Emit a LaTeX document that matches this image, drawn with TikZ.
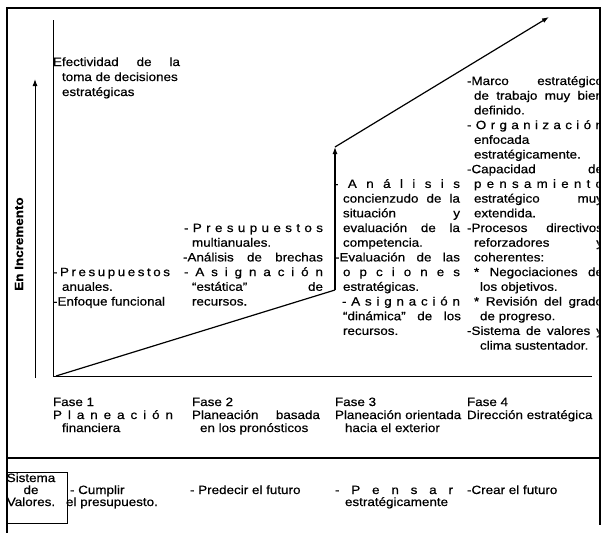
\documentclass[tikz,border=0pt]{standalone}
\usepackage{fontspec}
\setmainfont{Liberation Sans}[FakeStretch=1.12,FakeBold=0.6]
\usetikzlibrary{arrows.meta}
\newcommand\lsa[1]{#1\lsb}
\newcommand\lsb[1]{\ifx\relax#1\else\hfil#1\expandafter\lsb\fi}
\newcommand\LS[2]{\makebox[#1][s]{\lsa#2\relax}}
\newcommand\J[2]{\makebox[#1][s]{#2}}
\tikzset{
  txt/.style={anchor=base west, inner sep=0pt, outer sep=0pt, font=\fontsize{12}{14}\selectfont},
  ctxt/.style={anchor=base, inner sep=0pt, outer sep=0pt, font=\fontsize{12}{14}\selectfont},
  frame/.style={line width=2pt},
  axis/.style={line width=1pt},
  growth/.style={line width=1.2pt},
  tip/.style={-{Latex[length=7pt,width=5pt]}},
}
\begin{document}
\begin{tikzpicture}[x=1pt,y=-1pt]
\useasboundingbox (0,0) rectangle (603,533);
\fill[white] (0,0) rectangle (603,533);
% frame
\coordinate (fbl) at (7,533);
\coordinate (ftl) at (7,8);
\coordinate (ftr) at (600,8);
\coordinate (fbr) at (600,525);
\coordinate (dl) at (7,458);
\coordinate (dr) at (600,458);
\draw[frame] (fbl) -- (ftl) -- (ftr) -- (fbr);
\draw[frame] (dl) -- (dr);
% axes
\coordinate (O) at (53,376);
\coordinate (ytop) at (53,20);
\coordinate (xend) at (592,376);
\draw[axis] (ytop) -- (O) -- (xend);
\coordinate (a0) at (35,378);
\coordinate (a1) at (35,79);
\draw[axis,tip] (a0) -- (a1);
\node[rotate=90, inner sep=0pt, font=\fontsize{12}{14}\selectfont\bfseries] (inc) at (19,244) {En Incremento};
% growth line
\coordinate (g0) at (56,376);
\coordinate (g1) at (335,290);
\coordinate (g2) at (335,147);
\coordinate (g3) at (549,17);
\draw[growth] (g0) -- (g1);
\draw[growth,tip] (g1) -- (g2);
\draw[growth,tip] (g2) -- (g3);
% phase 1
\node[txt] (ef1) at (53,66) {\J{127pt}{Efectividad de la}};
\node[txt] (ef2) at (62,81) {toma de decisiones};
\node[txt] (ef3) at (62,96) {estratégicas};
\node[txt] (p1a) at (53,276.1) {\LS{117pt}{-Presupuestos}};
\node[txt] (p1b) at (62,290.8) {anuales.};
\node[txt] (p1c) at (53,305.5) {-Enfoque funcional};
% phase 2
\node[txt] (p2a) at (184,232) {\LS{139pt}{-Presupuestos}};
\node[txt] (p2b) at (192,246.7) {multianuales.};
\node[txt] (p2c) at (183,261.4) {\J{140pt}{-Análisis de brechas}};
\node[txt] (p2d) at (184,276.1) {\LS{139pt}{-Asignación}};
\node[txt] (p2e) at (192,290.8) {\J{131pt}{“estática” de}};
\node[txt] (p2f) at (192,305.5) {recursos.};
% phase 3
\node[txt] (p3a) at (334,187.9) {\LS{126pt}{-Análisis}};
\node[txt] (p3b) at (343,202.6) {\J{117pt}{concienzudo de la}};
\node[txt] (p3c) at (343,217.3) {\J{117pt}{situación y}};
\node[txt] (p3d) at (343,232) {\J{117pt}{evaluación de la}};
\node[txt] (p3e) at (343,246.7) {competencia.};
\node[txt] (p3f) at (335,261.4) {\J{125pt}{-Evaluación de las}};
\node[txt] (p3g) at (343,276.1) {\LS{117pt}{opciones}};
\node[txt] (p3h) at (343,290.8) {estratégicas.};
\node[txt] (p3i) at (342,305.5) {\LS{118pt}{-Asignación}};
\node[txt] (p3j) at (343,320.2) {\J{118pt}{“dinámica” de los}};
\node[txt] (p3k) at (343,334.9) {recursos.};
% phase 4 (cut by the right border)
\begin{scope}
\clip (440,0) rectangle (598.5,533);
\node[txt] (p4a) at (467,85) {\J{136pt}{-Marco estratégico}};
\node[txt] (p4b) at (474,99.7) {\J{129pt}{de trabajo muy bien}};
\node[txt] (p4c) at (474,114.4) {definido.};
\node[txt] (p4d) at (467,129.1) {\LS{136pt}{-Organización}};
\node[txt] (p4e) at (474,143.8) {enfocada};
\node[txt] (p4f) at (474,158.5) {estratégicamente.};
\node[txt] (p4g) at (467,173.2) {\J{136pt}{-Capacidad de}};
\node[txt] (p4h) at (474,187.9) {\LS{129pt}{pensamiento}};
\node[txt] (p4i) at (474,202.6) {\J{129pt}{estratégico muy}};
\node[txt] (p4j) at (474,217.3) {extendida.};
\node[txt] (p4k) at (467,232) {\J{136pt}{-Procesos directivos}};
\node[txt] (p4l) at (474,246.7) {\J{129pt}{reforzadores y}};
\node[txt] (p4m) at (474,261.4) {coherentes:};
\node[txt] (p4n) at (474,276.1) {\J{129pt}{* Negociaciones de}};
\node[txt] (p4o) at (480,290.8) {los objetivos.};
\node[txt] (p4p) at (474,305.5) {\J{129pt}{* Revisión del grado}};
\node[txt] (p4q) at (480,320.2) {de progreso.};
\node[txt] (p4r) at (467,334.9) {\J{136pt}{-Sistema de valores y}};
\node[txt] (p4s) at (480,349.6) {clima sustentador.};
\node[txt] (f4a) at (467,406) {Fase 4};
\node[txt] (f4b) at (467,419) {Dirección estratégica};
\end{scope}
% phase labels
\node[txt] (f1a) at (53,406) {Fase 1};
\node[txt] (f1b) at (53,419) {\LS{120pt}{Planeación}};
\node[txt] (f1c) at (62,432) {financiera};
\node[txt] (f2a) at (192,406) {Fase 2};
\node[txt] (f2b) at (192,419) {\J{128pt}{Planeación basada}};
\node[txt] (f2c) at (200,432) {en los pronósticos};
\node[txt] (f3a) at (335,406) {Fase 3};
\node[txt] (f3b) at (335,419) {Planeación orientada};
\node[txt] (f3c) at (345,432) {hacia el exterior};
% values row
\coordinate (bx0) at (7,472);
\coordinate (bx1) at (67,523);
\draw[line width=0.8pt] (bx0) rectangle (bx1);
\node[ctxt] (sv1) at (31,482) {Sistema};
\node[ctxt] (sv2) at (31,494) {de};
\node[ctxt] (sv3) at (31,506) {Valores.};
\node[txt] (c1) at (70,494) {- Cumplir};
\node[txt] (c2) at (66,506) {el presupuesto.};
\node[txt] (pr) at (190,494) {- Predecir el futuro};
\node[txt] (pe1) at (335,494) {\LS{118pt}{-Pensar}};
\node[txt] (pe2) at (345,506) {estratégicamente};
\node[txt] (cr) at (467,494) {-Crear el futuro};
\end{tikzpicture}
\end{document}
